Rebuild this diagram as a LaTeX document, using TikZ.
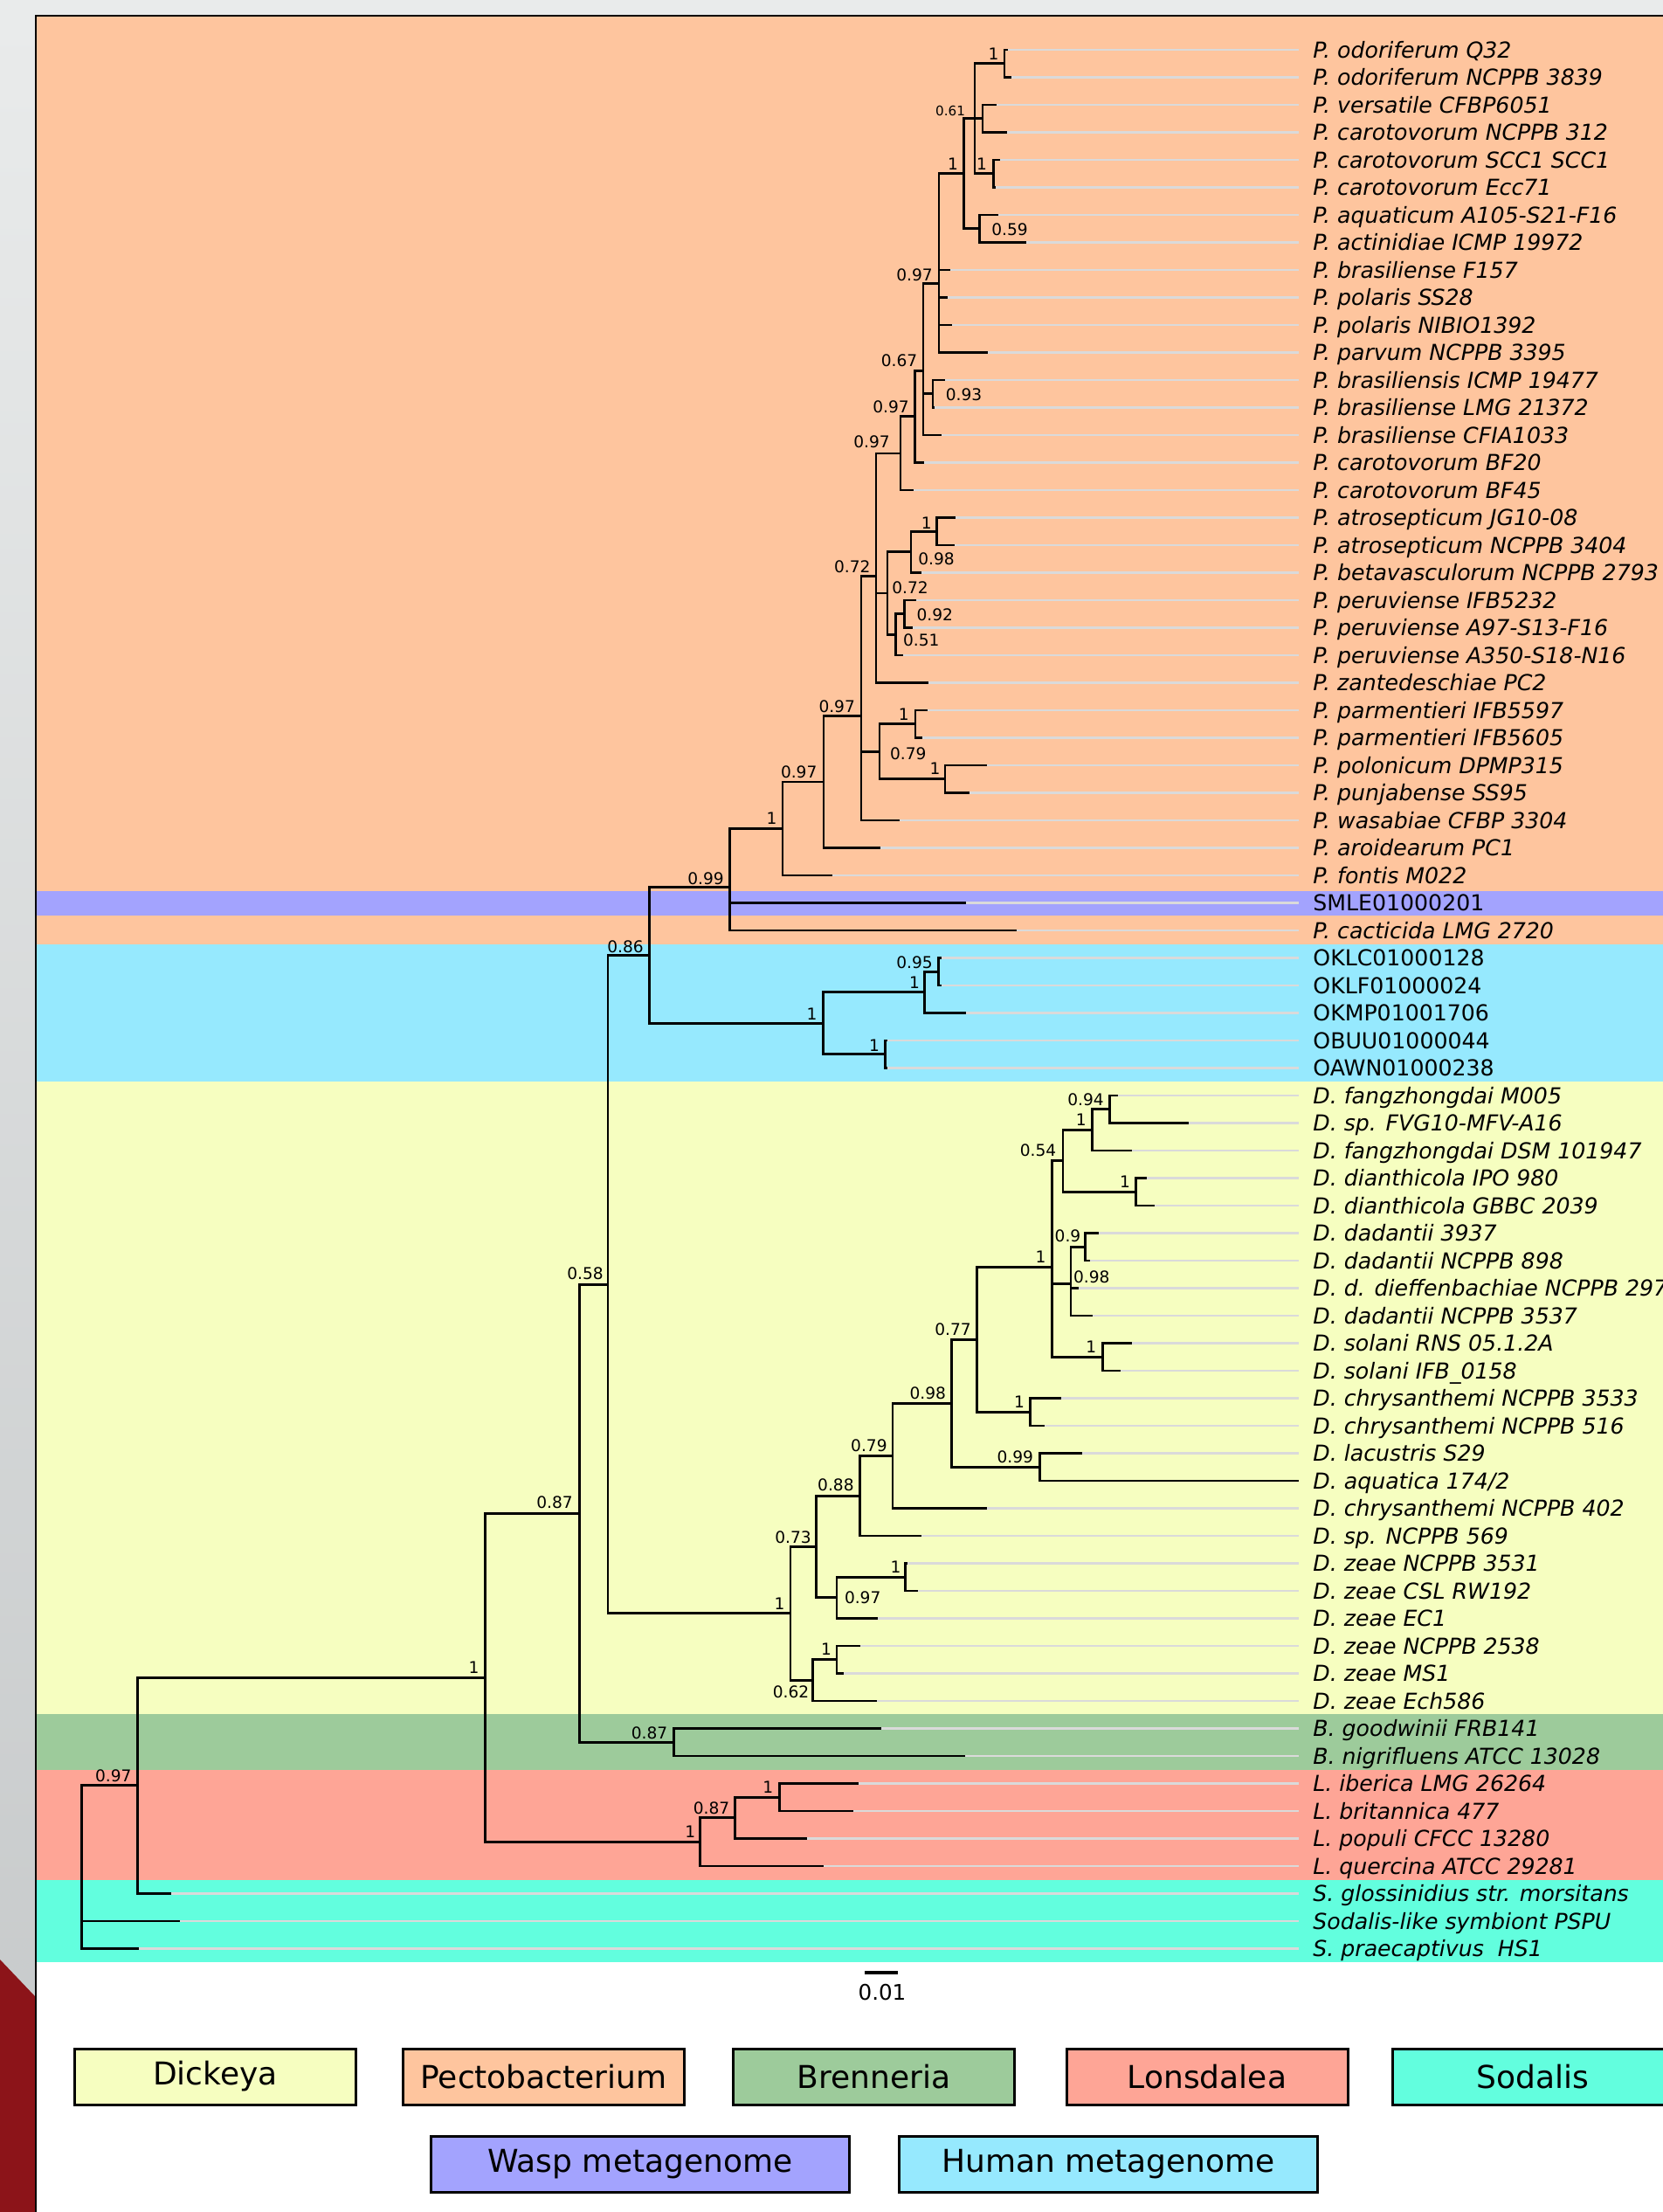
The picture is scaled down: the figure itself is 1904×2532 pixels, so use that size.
\documentclass[tikz,border=0pt]{standalone}
\usepackage{fontspec}
\setmainfont{DejaVu Sans}
\definecolor{cpec}{RGB}{254,197,158}
\definecolor{cwasp}{RGB}{163,163,254}
\definecolor{chum}{RGB}{150,233,254}
\definecolor{cdic}{RGB}{246,254,192}
\definecolor{cbre}{RGB}{157,203,155}
\definecolor{clon}{RGB}{254,165,150}
\definecolor{csod}{RGB}{98,254,222}
\definecolor{cgl}{RGB}{218,218,218}
\definecolor{cside}{RGB}{233,235,235}
\definecolor{csideb}{RGB}{197,200,201}
\definecolor{cred}{RGB}{140,20,25}
\newcommand\kids[2]{\foreach \kk in {#2}{\draw[br] (#1) |- (\kk);}}
\begin{document}
\begin{tikzpicture}[x=0.5pt,y=-0.5pt,
  br/.style={line width=1.4pt,line cap=rect,line join=miter},
  gl/.style={line width=1.4pt,draw=cgl},
  sup/.style={inner sep=0pt,font=\fontsize{9.3}{11}\selectfont},
  supsm/.style={inner sep=0pt,font=\fontsize{7.6}{9}\selectfont},
  leaf/.style={inner sep=0pt,anchor=base west,font=\fontsize{12.6}{15}\selectfont},
  legbox/.style={draw=black,line width=1.5pt,minimum height=32pt,inner sep=0pt,font=\fontsize{18}{21}\selectfont},
]
\useasboundingbox (0,0) rectangle (1904,2532);
% surroundings
\fill[cside] (0,0) rectangle (1904,17);
\shade[top color=cside,bottom color=csideb] (0,17) rectangle (40,2532);
\fill[cred] (0,2243) -- (40,2285) -- (40,2532) -- (0,2532) -- cycle;
% bands
\fill[cpec] (41,18) rectangle (1904,1081);
\fill[cwasp] (41,1019.5) rectangle (1904,1047.5);
\fill[chum] (41,1081) rectangle (1904,1238.3);
\fill[cdic] (41,1238.3) rectangle (1904,1962);
\fill[cbre] (41,1962) rectangle (1904,2025.5);
\fill[clon] (41,2025.5) rectangle (1904,2152);
\fill[csod] (41,2152) rectangle (1904,2246);
\fill[white] (41,2246) rectangle (1904,2532);
\draw[line width=1pt] (41,2532) -- (41,18) -- (1904,18);

\begin{scope}[y=-15.75pt,yshift=-12.7pt]
\foreach \ri/\tx/\lab in {
 1/1153/{\itshape P. odoriferum Q32},
 2/1157/{\itshape P. odoriferum NCPPB 3839},
 3/1140/{\itshape P. versatile CFBP6051},
 4/1152/{\itshape P. carotovorum NCPPB 312},
 5/1144/{\itshape P. carotovorum SCC1 SCC1},
 6/1139/{\itshape P. carotovorum Ecc71},
 7/1142/{\itshape P. aquaticum A105-S21-F16},
 8/1174/{\itshape P. actinidiae ICMP 19972},
 9/1087/{\itshape P. brasiliense F157},
 10/1084/{\itshape P. polaris SS28},
 11/1089/{\itshape P. polaris NIBIO1392},
 12/1130/{\itshape P. parvum NCPPB 3395},
 13/1081/{\itshape P. brasiliensis ICMP 19477},
 14/1069/{\itshape P. brasiliense LMG 21372},
 15/1077/{\itshape P. brasiliense CFIA1033},
 16/1057/{\itshape P. carotovorum BF20},
 17/1045/{\itshape P. carotovorum BF45},
 18/1093/{\itshape P. atrosepticum JG10-08},
 19/1092/{\itshape P. atrosepticum NCPPB 3404},
 20/1054/{\itshape P. betavasculorum NCPPB 2793},
 21/1048/{\itshape P. peruviense IFB5232},
 22/1044/{\itshape P. peruviense A97-S13-F16},
 23/1033/{\itshape P. peruviense A350-S18-N16},
 24/1062/{\itshape P. zantedeschiae PC2},
 25/1061/{\itshape P. parmentieri IFB5597},
 26/1055/{\itshape P. parmentieri IFB5605},
 27/1129/{\itshape P. polonicum DPMP315},
 28/1109/{\itshape P. punjabense SS95},
 29/1029/{\itshape P. wasabiae CFBP 3304},
 30/1007/{\itshape P. aroidearum PC1},
 31/952/{\itshape P. fontis M022},
 32/1105/{SMLE01000201},
 33/1163/{\itshape P. cacticida LMG 2720},
 34/1077/{OKLC01000128},
 35/1077/{OKLF01000024},
 36/1105/{OKMP01001706},
 37/1015/{OBUU01000044},
 38/1015/{OAWN01000238},
 39/1279/{\itshape D. fangzhongdai M005},
 40/1360/{\itshape D. sp. FVG10-MFV-A16},
 41/1295/{\itshape D. fangzhongdai DSM 101947},
 42/1312/{\itshape D. dianthicola IPO 980},
 43/1321/{\itshape D. dianthicola GBBC 2039},
 44/1257/{\itshape D. dadantii 3937},
 45/1247/{\itshape D. dadantii NCPPB 898},
 46/1234/{\itshape D. d. dieffenbachiae NCPPB 297},
 47/1250/{\itshape D. dadantii NCPPB 3537},
 48/1295/{\itshape D. solani RNS 05.1.2A},
 49/1282/{\itshape D. solani IFB\_0158},
 50/1214/{\itshape D. chrysanthemi NCPPB 3533},
 51/1195/{\itshape D. chrysanthemi NCPPB 516},
 52/1238/{\itshape D. lacustris S29},
 53/1486/{\itshape D. aquatica 174/2},
 54/1129/{\itshape D. chrysanthemi NCPPB 402},
 55/1054/{\itshape D. sp. NCPPB 569},
 56/1038/{\itshape D. zeae NCPPB 3531},
 57/1050/{\itshape D. zeae CSL RW192},
 58/1004/{\itshape D. zeae EC1},
 59/984/{\itshape D. zeae NCPPB 2538},
 60/965/{\itshape D. zeae MS1},
 61/1003/{\itshape D. zeae Ech586},
 62/1008/{\itshape B. goodwinii FRB141},
 63/1104/{\itshape B. nigrifluens ATCC 13028},
 64/982/{\itshape L. iberica LMG 26264},
 65/976/{\itshape L. britannica 477},
 66/923/{\itshape L. populi CFCC 13280},
 67/942/{\itshape L. quercina ATCC 29281},
 68/195/{\itshape S. glossinidius str. morsitans},
 69/205/{\itshape Sodalis-like symbiont PSPU},
 70/158/{\itshape S. praecaptivus\ \ HS1}%
}{
  \coordinate (L\ri) at (\tx,\ri);
  \coordinate (E\ri) at (1487,\ri);
  \draw[gl] (L\ri) -- (E\ri);
  \node[leaf] (T\ri) at ([xshift=8pt,yshift=-4.6pt]E\ri) {\lab};
}
% internal nodes
\coordinate (nodo) at (1150,1.5);
\coordinate (nvers) at (1125,3.5);
\coordinate (nscc) at (1137.5,5.5);
\coordinate (nA) at (1116,3.5);
\coordinate (naq) at (1121.4,7.5);
\coordinate (nB) at (1103.6,5.5);
\coordinate (nC) at (1075,9.5);
\coordinate (nE) at (1068,13.5);
\coordinate (nD) at (1057,12.667);
\coordinate (nF) at (1047.5,14.333);
\coordinate (nG) at (1031,15.667);
\coordinate (natro) at (1072.3,18.5);
\coordinate (nJ) at (1043,19.25);
\coordinate (npe) at (1035.3,21.5);
\coordinate (nK) at (1025.4,22.25);
\coordinate (nI) at (1016,20.75);
\coordinate (nL) at (1003,20.139);
\coordinate (nparm) at (1048,25.5);
\coordinate (npolo) at (1082,27.5);
\coordinate (nM) at (1007,26.5);
\coordinate (nH) at (986,25.213);
\coordinate (nN) at (943,27.606);
\coordinate (nO) at (896,29.303);
\coordinate (nP) at (835.4,31.434);
\coordinate (nU) at (1074.8,34.5);
\coordinate (nS) at (1058.7,35.25);
\coordinate (nT) at (1013.4,37.5);
\coordinate (nR) at (942.8,36.375);
\coordinate (nQ) at (743.6,33.905);
\coordinate (nfz) at (1270.5,39.5);
\coordinate (nfzb) at (1250.4,40.25);
\coordinate (ndia) at (1300.4,42.5);
\coordinate (nfiv) at (1217,41.375);
\coordinate (ndad) at (1242.4,44.5);
\coordinate (nnin) at (1225.9,45.833);
\coordinate (nsol) at (1262.5,48.5);
\coordinate (nonea) at (1204.5,45.236);
\coordinate (nchr) at (1179.5,50.5);
\coordinate (nsev) at (1118.75,47.868);
\coordinate (nlac) at (1190.2,52.5);
\coordinate (nnb) at (1089.7,50.184);
\coordinate (nsn) at (1021.9,52.092);
\coordinate (nee) at (984.5,53.546);
\coordinate (nzea) at (1036.6,56.5);
\coordinate (nzb) at (958,57.25);
\coordinate (nst) at (934.8,55.398);
\coordinate (nms) at (958,59.5);
\coordinate (nsx) at (930.8,60.25);
\coordinate (nDone) at (904.9,57.824);
\coordinate (nV) at (696,45.865);
\coordinate (nBre) at (771.7,62.5);
\coordinate (nX) at (663.6,54.182);
\coordinate (nLib) at (892.3,64.5);
\coordinate (nLe) at (841.8,65.25);
\coordinate (nLon) at (801.8,66.125);
\coordinate (nW) at (555.6,60.154);
\coordinate (nY) at (157.8,64.077);
\coordinate (nroot) at (93.3,67.69);
% branches
\kids{nodo}{L1,L2}
\kids{nvers}{L3,L4}
\kids{nscc}{L5,L6}
\kids{nA}{nodo,nvers,nscc}
\kids{naq}{L7,L8}
\kids{nB}{nA,naq}
\kids{nC}{nB,L9,L10,L11,L12}
\kids{nE}{L13,L14}
\kids{nD}{nC,nE,L15}
\kids{nF}{nD,L16}
\kids{nG}{nF,L17}
\kids{natro}{L18,L19}
\kids{nJ}{natro,L20}
\kids{npe}{L21,L22}
\kids{nK}{npe,L23}
\kids{nI}{nJ,nK}
\kids{nL}{nG,nI,L24}
\kids{nparm}{L25,L26}
\kids{npolo}{L27,L28}
\kids{nM}{nparm,npolo}
\kids{nH}{nL,nM,L29}
\kids{nN}{nH,L30}
\kids{nO}{nN,L31}
\kids{nP}{nO,L32,L33}
\kids{nU}{L34,L35}
\kids{nS}{nU,L36}
\kids{nT}{L37,L38}
\kids{nR}{nS,nT}
\kids{nQ}{nP,nR}
\kids{nfz}{L39,L40}
\kids{nfzb}{nfz,L41}
\kids{ndia}{L42,L43}
\kids{nfiv}{nfzb,ndia}
\kids{ndad}{L44,L45}
\kids{nnin}{ndad,L46,L47}
\kids{nsol}{L48,L49}
\kids{nonea}{nfiv,nnin,nsol}
\kids{nchr}{L50,L51}
\kids{nsev}{nonea,nchr}
\kids{nlac}{L52,L53}
\kids{nnb}{nsev,nlac}
\kids{nsn}{nnb,L54}
\kids{nee}{nsn,L55}
\kids{nzea}{L56,L57}
\kids{nzb}{nzea,L58}
\kids{nst}{nee,nzb}
\kids{nms}{L59,L60}
\kids{nsx}{nms,L61}
\kids{nDone}{nst,nsx}
\kids{nV}{nQ,nDone}
\kids{nBre}{L62,L63}
\kids{nX}{nV,nBre}
\kids{nLib}{L64,L65}
\kids{nLe}{nLib,L66}
\kids{nLon}{nLe,L67}
\kids{nW}{nX,nLon}
\kids{nY}{nW,L68}
\kids{nroot}{nY,L69,L70}
\end{scope}

% support values
\node[sup] (s1) at (1137.5,61.3) {1};
\node[supsm] (s2) at (1088,126.7) {0.61};
\node[sup] (s3) at (1091,188) {1};
\node[sup] (s4) at (1124,188) {1};
\node[sup] (s5) at (1156,262.8) {0.59};
\node[sup] (s6) at (1047,314.4) {0.97};
\node[sup] (s7) at (1029.5,412.6) {0.67};
\node[sup] (s8) at (1103.5,452.2) {0.93};
\node[sup] (s9) at (1020,466) {0.97};
\node[sup] (s10) at (998,506) {0.97};
\node[sup] (s11) at (975.7,648.3) {0.72};
\node[sup] (s12) at (1060.7,598.3) {1};
\node[sup] (s13) at (1072,640) {0.98};
\node[sup] (s14) at (1042,672.3) {0.72};
\node[sup] (s15) at (1070.3,703.3) {0.92};
\node[sup] (s16) at (1054.7,732.7) {0.51};
\node[sup] (s17) at (958.2,808.3) {0.97};
\node[sup] (s18) at (1034.8,817.3) {1};
\node[sup] (s19) at (1039.7,862.7) {0.79};
\node[sup] (s20) at (1070.5,880) {1};
\node[sup] (s21) at (914.7,883.3) {0.97};
\node[sup] (s22) at (883.5,936.7) {1};
\node[sup] (s23) at (808,1006) {0.99};
\node[sup] (s24) at (1047,1101.7) {0.95};
\node[sup] (s25) at (1047,1125) {1};
\node[sup] (s26) at (929.5,1161) {1};
\node[sup] (s27) at (1001,1196.7) {1};
\node[sup] (s28) at (716,1083.3) {0.86};
\node[sup] (s29) at (1243,1258.3) {0.94};
\node[sup] (s30) at (1237.8,1281.7) {1};
\node[sup] (s31) at (1188.5,1317) {0.54};
\node[sup] (s32) at (1288,1352.7) {1};
\node[sup] (s33) at (1222.5,1415) {0.9};
\node[sup] (s34) at (1191.5,1439) {1};
\node[sup] (s35) at (1249.8,1461.7) {0.98};
\node[sup] (s36) at (1091,1521.7) {0.77};
\node[sup] (s37) at (1249.3,1541.7) {1};
\node[sup] (s38) at (1062.3,1595) {0.98};
\node[sup] (s39) at (1167,1605) {1};
\node[sup] (s40) at (994.9,1655) {0.79};
\node[sup] (s41) at (1162.3,1667.3) {0.99};
\node[sup] (s42) at (956.9,1700) {0.88};
\node[sup] (s43) at (908,1760) {0.73};
\node[sup] (s44) at (1025.5,1794) {1};
\node[sup] (s45) at (987.7,1829) {0.97};
\node[sup] (s46) at (892.5,1836) {1};
\node[sup] (s47) at (946,1888) {1};
\node[sup] (s48) at (905.5,1937) {0.62};
\node[sup] (s49) at (670,1458) {0.58};
\node[sup] (s50) at (635,1720) {0.87};
\node[sup] (s51) at (542.6,1908.3) {1};
\node[sup] (s52) at (743.6,1983.3) {0.87};
\node[sup] (s53) at (879.4,2046) {1};
\node[sup] (s54) at (814.5,2069.3) {0.87};
\node[sup] (s55) at (790.2,2096.7) {1};
\node[sup] (s56) at (129.8,2032.7) {0.97};

% scale bar
\coordinate (sbl) at (990,2258);
\coordinate (sbr) at (1028,2258);
\draw[line width=2.4pt] (sbl) -- (sbr);
\node[inner sep=0pt,font=\fontsize{12.3}{14}\selectfont] (sbt) at (1010,2281) {0.01};

% legend
\node[legbox,fill=cdic,minimum width=161pt] (lg1) at (246.3,2377) {Dickeya};
\node[legbox,fill=cpec,minimum width=161pt] (lg2) at (622.5,2377) {Pectobacterium};
\node[legbox,fill=cbre,minimum width=161pt] (lg3) at (1000.5,2377) {Brenneria};
\node[legbox,fill=clon,minimum width=161pt] (lg4) at (1382,2377) {Lonsdalea};
\node[legbox,fill=csod,minimum width=161pt] (lg5) at (1755,2377) {Sodalis};
\node[legbox,fill=cwasp,minimum width=239.5pt] (lg6) at (733,2477.5) {Wasp metagenome};
\node[legbox,fill=chum,minimum width=239.5pt] (lg7) at (1269,2477.5) {Human metagenome};
\end{tikzpicture}
\end{document}
